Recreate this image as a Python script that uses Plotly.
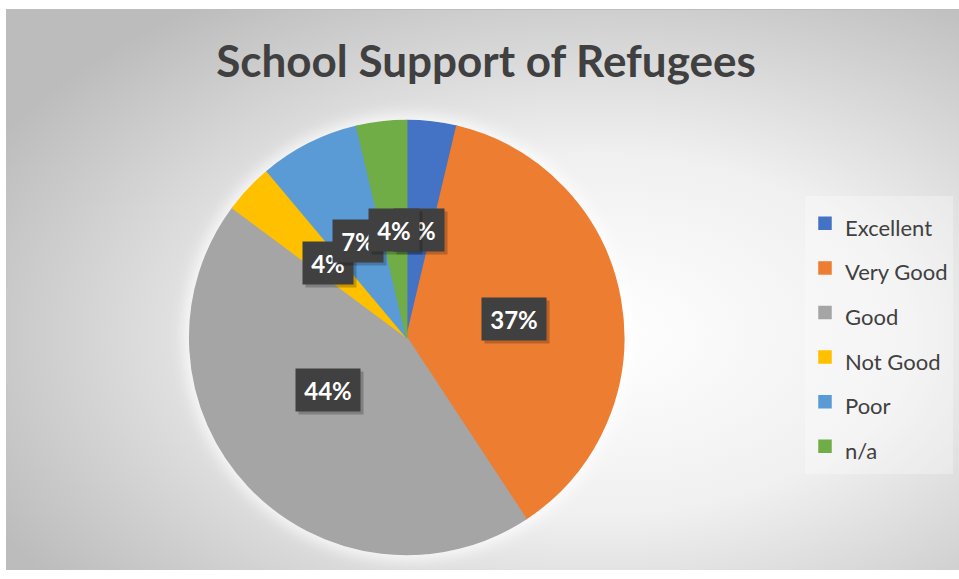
import base64
import math
import plotly.graph_objects as go

# ---- data ----
categories = ["Excellent", "Very Good", "Good", "Not Good", "Poor", "n/a"]
counts = [1, 10, 12, 1, 2, 1]
colors = ["#4472C4", "#ED7D31", "#A5A5A5", "#FFC000", "#5B9BD5", "#70AD47"]
title_text = "School Support of Refugees"

# ---- layout geometry (pixels) ----
W, H = 959, 579
cx, cy, R = 406.7, 337.5, 217.0

# background: radial gradient + soft glow around the pie
bx0, by0, bx1, by1 = 6, 9, 959, 570
bw, bh = bx1 - bx0, by1 - by0
svg = f'''<svg xmlns="http://www.w3.org/2000/svg" width="{bw}" height="{bh}" viewBox="0 0 {bw} {bh}" preserveAspectRatio="none">
<defs>
<radialGradient id="g" cx="0.62" cy="0.58" r="0.72" gradientUnits="objectBoundingBox">
<stop offset="0" stop-color="#ffffff"/><stop offset="0.45" stop-color="#f0f0f0"/><stop offset="1" stop-color="#bcbcbc"/>
</radialGradient>
<filter id="b" x="-20%" y="-20%" width="140%" height="140%"><feGaussianBlur stdDeviation="7"/></filter>
</defs>
<rect x="0" y="0" width="{bw}" height="{bh}" fill="url(#g)"/>
<line x1="0" y1="0.5" x2="{bw}" y2="0.5" stroke="#bdbdbd" stroke-width="1"/>
<circle cx="{cx - bx0}" cy="{cy - by0}" r="{R + 6}" fill="#ffffff" fill-opacity="0.75" filter="url(#b)"/>
</svg>'''
src = "data:image/svg+xml;base64," + base64.b64encode(svg.encode()).decode()

legend_labels = [f'<span style="font-size:22px">{c}</span>' for c in categories]

fig = go.Figure()
fig.add_trace(go.Pie(
    labels=legend_labels,
    values=counts,
    sort=False,
    direction="clockwise",
    rotation=0,
    textinfo="none",
    hoverinfo="label+percent",
    marker=dict(colors=colors, line=dict(color=colors, width=1.5)),
    domain=dict(x=[(cx - R) / W, (cx + R) / W], y=[1 - (cy + R) / H, 1 - (cy - R) / H]),
    showlegend=True,
))

# data labels: dark boxes at half radius, at each slice's mid angle
total = sum(counts)
annotations = []
cum = 0
for c, v in zip(categories, counts):
    mid = (cum + v / 2) / total * 2 * math.pi
    cum += v
    px = cx + 0.5 * R * math.sin(mid)
    py = cy - 0.5 * R * math.cos(mid)
    txt = f"{round(v / total * 100)}%"
    wbox = 14 * len(txt) + 22
    common = dict(x=px / W, y=1 - py / H, xref="paper", yref="paper", showarrow=False,
                  width=wbox, height=42, borderpad=0, align="center", valign="middle")
    annotations.append(dict(text="", bgcolor="rgba(0,0,0,0.22)", xshift=3, yshift=-3, **common))
    annotations.append(dict(text=txt, bgcolor="#404040",
                            font=dict(family="Lato", size=24, color="#ffffff", weight=700), **common))

fig.update_layout(
    width=W, height=H,
    margin=dict(l=0, r=0, t=0, b=0),
    paper_bgcolor="#ffffff",
    plot_bgcolor="rgba(0,0,0,0)",
    images=[dict(source=src, xref="paper", yref="paper", x=bx0 / W, y=1 - by0 / H,
                 sizex=bw / W, sizey=bh / H, xanchor="left", yanchor="top",
                 sizing="stretch", layer="below")],
    title=dict(text=title_text, x=486 / W, y=1 - 62 / H, xref="paper", yref="container",
               xanchor="center", yanchor="middle",
               font=dict(family="Lato", size=44, color="#404040", weight=700)),
    legend=dict(x=805 / W, y=1 - 196 / H, xanchor="left", yanchor="top",
                bgcolor="rgba(255,255,255,0.3)", borderwidth=0,
                font=dict(family="Lato", size=32, color="#404040"),
                itemwidth=30),
    annotations=annotations,
)

fig.write_html("out.html")
